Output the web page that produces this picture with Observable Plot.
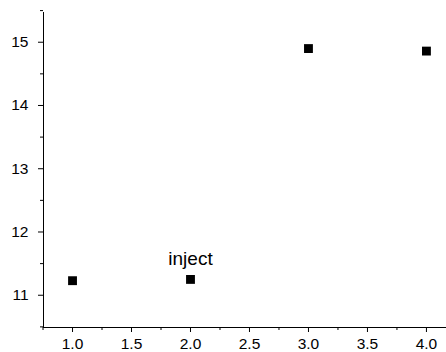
<!DOCTYPE html>
<html>
<head>
<meta charset="utf-8">
<script src="https://cdn.jsdelivr.net/npm/d3@7"></script>
<script src="https://cdn.jsdelivr.net/npm/@observablehq/plot@0.6"></script>
<style>
  html, body { margin: 0; padding: 0; background: #fff; }
  svg { display: block; }
</style>
</head>
<body>
<div id="chart"></div>
<script>
const xValues = [1, 2, 3, 4];
const yValues = [11.23, 11.25, 14.9, 14.86];
const pointLabels = ["", "inject", "", ""];
const xTicks = [1.0, 1.5, 2.0, 2.5, 3.0, 3.5, 4.0];
const xMinorTicks = [0.75, 1.25, 1.75, 2.25, 2.75, 3.25, 3.75, 4.25];
const yTicks = [11, 12, 13, 14, 15];
const yMinorTicks = [10.5, 11.5, 12.5, 13.5, 14.5, 15.5];

const data = xValues.map((x, i) => ({x, y: yValues[i], label: pointLabels[i]}));

const chart = Plot.plot({
  width: 446,
  height: 352,
  marginLeft: 43,
  marginRight: 0,
  marginTop: 12,
  marginBottom: 25,
  style: {fontFamily: "Arial, 'Liberation Sans', sans-serif", fontSize: "15px", color: "#000", background: "#fff"},
  x: {domain: [0.754, 4.17]},
  y: {domain: [10.49, 15.47]},
  marks: [
    Plot.axisX({ticks: xMinorTicks, tickSize: 3, tickFormat: () => "", stroke: "#000", strokeOpacity: 1, label: null}),
    Plot.axisX({ticks: xTicks, tickSize: 5, tickPadding: 5, tickFormat: d3.format(".1f"), stroke: "#000", strokeOpacity: 1, fill: "#000", fontSize: 15.5, fontWeight: 500, label: null}),
    Plot.axisY({ticks: yMinorTicks, tickSize: 3, tickFormat: () => "", stroke: "#000", strokeOpacity: 1, label: null}),
    Plot.axisY({ticks: yTicks, tickSize: 5, tickPadding: 10, tickFormat: d3.format("d"), stroke: "#000", strokeOpacity: 1, fill: "#000", fontSize: 15.5, fontWeight: 500, label: null}),
    Plot.ruleX([0.754], {stroke: "#000", strokeWidth: 1}),
    Plot.ruleY([10.49], {stroke: "#000", strokeWidth: 1}),
    Plot.dot(data, {x: "x", y: "y", symbol: "square", r: 5, fill: "#000", stroke: "none"}),
    Plot.text(data, {x: "x", y: "y", text: "label", dy: -21, fontSize: 19, fill: "#000"})
  ]
});
document.getElementById("chart").appendChild(chart);
</script>
</body>
</html>
